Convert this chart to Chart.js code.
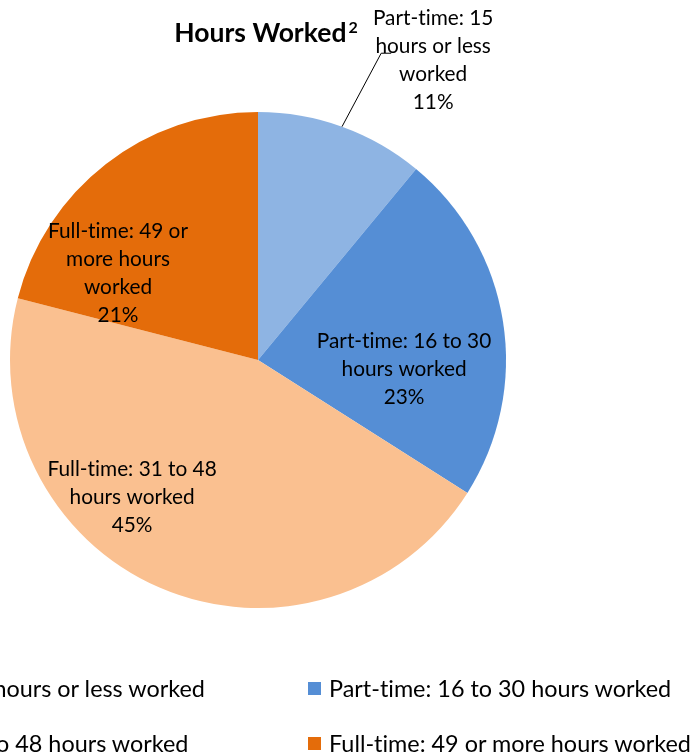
<!DOCTYPE html>
<html>
<head>
<meta charset="utf-8">
<script src="https://cdn.jsdelivr.net/npm/chart.js@4.4.1/dist/chart.umd.min.js"></script>
<style>
  html, body { margin: 0; padding: 0; background: #fff; overflow: hidden; }
  #wrap { position: relative; width: 699px; height: 755px; }
  #hoursChart { position: absolute; left: 0; top: 0; }
  #legend { position: absolute; left: 0; top: 0; font-family: Lato, sans-serif; font-size: 23.4px; color: #000; font-variant-ligatures: none; }
  .item { position: absolute; white-space: nowrap; display: flex; align-items: center; height: 26px; }
  .box { width: 13px; height: 13px; margin-right: 8px; }
</style>
</head>
<body>
<div id="wrap">
  <canvas id="hoursChart" width="699" height="755"></canvas>
  <div id="legend"></div>
</div>
<script>
var categories = [
  "Part-time: 15 hours or less worked",
  "Part-time: 16 to 30 hours worked",
  "Full-time: 31 to 48 hours worked",
  "Full-time: 49 or more hours worked"
];
var shares = [11, 23, 45, 21];
var labelLines = [
  ["Part-time: 15", "hours or less", "worked"],
  ["Part-time: 16 to 30", "hours worked"],
  ["Full-time: 31 to 48", "hours worked"],
  ["Full-time: 49 or", "more hours", "worked"]
];
var sliceColors = ["#8EB4E3", "#558ED5", "#FAC090", "#E46C0A"];
var chartTitle = "Hours Worked";
var titleNote = "2";

// where each data label sits: fraction of radius, and turn (deg) off the slice's mid angle
var labelPlace = [
  { dist: 1.40, turn: 10.5, leader: true },
  { dist: 0.59, turn: 12.5 },
  { dist: 0.75, turn: 19.2 },
  { dist: 0.665, turn: -20.3 }
];

var sliceLabels = {
  id: 'sliceLabels',
  afterDatasetsDraw: function(chart) {
    var ctx = chart.ctx;
    var meta = chart.getDatasetMeta(0);
    var total = shares.reduce(function(a, b) { return a + b; }, 0);
    var lineH = 28;
    meta.data.forEach(function(arc, i) {
      var p = arc.getProps(['x', 'y', 'startAngle', 'endAngle', 'outerRadius'], true);
      var mid = (p.startAngle + p.endAngle) / 2;
      var pl = labelPlace[i];
      var a = mid + pl.turn * Math.PI / 180;
      var lx = p.x + Math.cos(a) * p.outerRadius * pl.dist;
      var ly = p.y + Math.sin(a) * p.outerRadius * pl.dist;
      var lines = labelLines[i].concat([Math.round(shares[i] / total * 100) + '%']);
      ctx.save();
      ctx.textRendering = 'optimizeSpeed';
      ctx.font = '20.8px Lato, sans-serif';
      ctx.fillStyle = '#000';
      ctx.textAlign = 'center';
      ctx.textBaseline = 'middle';
      var top = ly - (lines.length - 1) * lineH / 2;
      lines.forEach(function(t, k) {
        ctx.fillText(t, lx, top + k * lineH);
      });
      if (pl.leader) {
        ctx.strokeStyle = '#000';
        ctx.lineWidth = 1;
        ctx.beginPath();
        ctx.moveTo(p.x + Math.cos(mid) * p.outerRadius, p.y + Math.sin(mid) * p.outerRadius);
        ctx.lineTo(lx - 52, ly - 7);
        ctx.lineTo(lx - 42, ly - 7);
        ctx.stroke();
      }
      ctx.restore();
    });
  }
};

// title with a raised footnote mark, a bit right of the pie centre like the original
var titleDraw = {
  id: 'titleDraw',
  afterDraw: function(chart) {
    var ctx = chart.ctx;
    var area = chart.chartArea;
    ctx.save();
    ctx.textRendering = 'optimizeSpeed';
    ctx.fillStyle = '#000';
    ctx.textBaseline = 'alphabetic';
    ctx.textAlign = 'left';
    ctx.font = 'bold 26.5px Lato, sans-serif';
    var w1 = ctx.measureText(chartTitle).width;
    ctx.font = 'bold 16px Lato, sans-serif';
    var w2 = ctx.measureText(titleNote).width;
    var cx = (area.left + area.right) / 2 + 8;
    var x0 = cx - (w1 + 2 + w2) / 2;
    var base = area.top - 70.3;
    ctx.font = 'bold 26.5px Lato, sans-serif';
    ctx.fillText(chartTitle, x0, base);
    ctx.font = 'bold 16px Lato, sans-serif';
    ctx.fillText(titleNote, x0 + w1 + 2, base - 8.5);
    ctx.restore();
  }
};

new Chart("hoursChart", {
  type: "pie",
  data: {
    labels: categories,
    datasets: [{
      data: shares,
      backgroundColor: sliceColors,
      borderWidth: 0,
      hoverOffset: 0
    }]
  },
  options: {
    responsive: false,
    animation: false,
    layout: { padding: { left: 10, right: 193, top: 112, bottom: 147 } },
    plugins: {
      legend: { display: false },
      tooltip: { enabled: false },
      title: { display: false }
    }
  },
  plugins: [sliceLabels, titleDraw]
});

// two-column legend, left column runs off the page like the original
var legendPos = [
  { left: -169, top: 675 },
  { left: 308, top: 675 },
  { left: -169, top: 730 },
  { left: 308, top: 730 }
];
var legend = document.getElementById('legend');
categories.forEach(function(name, i) {
  var item = document.createElement('div');
  item.className = 'item';
  item.style.left = legendPos[i].left + 'px';
  item.style.top = legendPos[i].top + 'px';
  var box = document.createElement('span');
  box.className = 'box';
  box.style.background = sliceColors[i];
  var txt = document.createElement('span');
  txt.textContent = name;
  item.appendChild(box);
  item.appendChild(txt);
  legend.appendChild(item);
});
</script>
</body>
</html>
